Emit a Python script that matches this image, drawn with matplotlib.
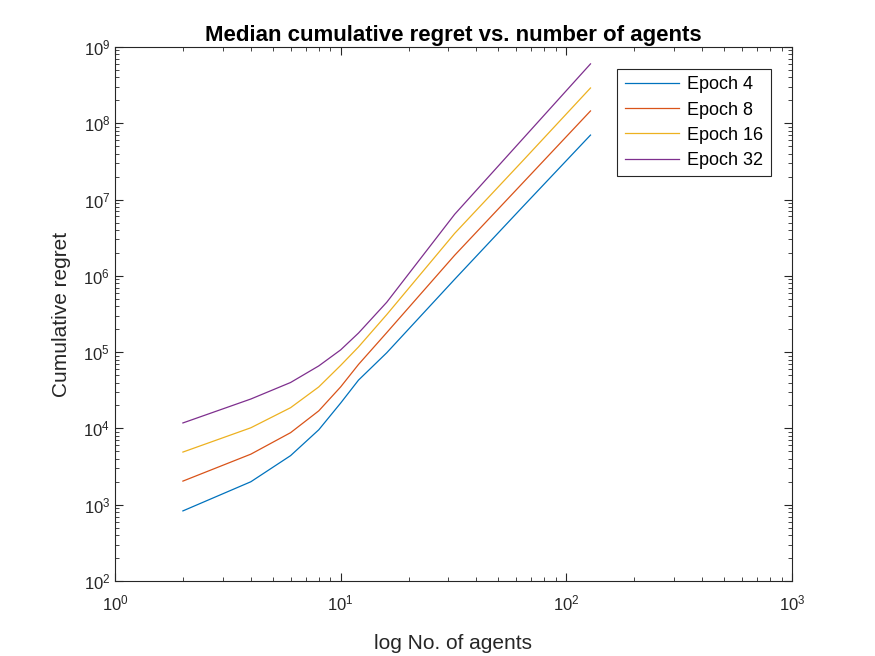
import matplotlib
matplotlib.use("Agg")
import matplotlib.pyplot as plt
from matplotlib.ticker import LogLocator, NullFormatter

plt.rcParams['font.family'] = ['Liberation Sans', 'DejaVu Sans']
plt.rcParams['mathtext.fontset'] = 'dejavusans'

# datos
agentes = [2, 4, 6, 8, 10, 12, 16, 32, 64, 128]
epoch4 = [830, 2000, 4400, 9600, 21500, 43000, 98000, 9.0e5, 8.0e6, 7.0e7]
epoch8 = [2040, 4600, 8800, 17000, 35000, 69000, 180000, 1.86e6, 1.64e7, 1.45e8]
epoch16 = [4900, 10200, 18700, 35000, 67000, 117000, 310000, 3.6e6, 3.2e7, 2.9e8]
epoch32 = [11800, 24300, 40000, 66000, 107000, 178000, 450000, 6.4e6, 6.2e7, 6.0e8]
etiquetas = ["Epoch 4", "Epoch 8", "Epoch 16", "Epoch 32"]
colores = ["#0072BD", "#D95319", "#EDB120", "#7E2F8E"]

fig = plt.figure(figsize=(8.75, 6.56), dpi=100)
ax = fig.add_axes([0.1314, 0.1143, 0.7737, 0.8141])

for serie, nombre, c in zip([epoch4, epoch8, epoch16, epoch32], etiquetas, colores):
    ax.loglog(agentes, serie, color=c, linewidth=0.9, label=nombre)

ax.set_xlim(1, 1000)
ax.set_ylim(1e2, 1e9)
ax.xaxis.set_major_locator(LogLocator(base=10, numticks=10))
ax.yaxis.set_major_locator(LogLocator(base=10, numticks=10))
ax.xaxis.set_minor_locator(LogLocator(base=10, subs=range(2, 10), numticks=20))
ax.yaxis.set_minor_locator(LogLocator(base=10, subs=range(2, 10), numticks=20))
ax.yaxis.set_minor_formatter(NullFormatter())
ax.xaxis.set_minor_formatter(NullFormatter())

ax.tick_params(which='both', direction='in', top=True, right=True, labelsize=12, colors='#262626')
ax.tick_params(which='major', length=6, width=0.8)
ax.tick_params(which='minor', length=3, width=0.6)
ax.tick_params(axis='x', pad=9)
for s in ax.spines.values():
    s.set_color('#262626')
    s.set_linewidth(0.8)

ax.set_xlabel("log No. of agents", fontsize=15, color='#262626', labelpad=15)
ax.set_ylabel("Cumulative regret", fontsize=15, color='#262626', labelpad=9)
ax.set_title("Median cumulative regret vs. number of agents", fontsize=16, fontweight='bold', pad=4)

leg = ax.legend(loc='upper right', bbox_to_anchor=(0.969, 0.959), borderaxespad=0, fontsize=13,
                fancybox=False, framealpha=1, edgecolor='#262626', handlelength=3.0,
                borderpad=0.42, labelspacing=0.45, handletextpad=0.45)
leg.get_frame().set_linewidth(0.8)

fig.savefig("out.png", dpi=100)
